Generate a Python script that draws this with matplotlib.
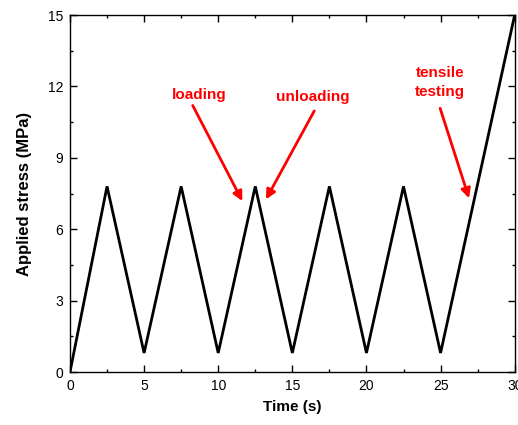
import matplotlib.pyplot as plt
from matplotlib.ticker import MultipleLocator

plt.rcParams['font.family'] = ['Liberation Sans', 'DejaVu Sans']

# cyclic load/unload, then the final tensile ramp
time_s = [0, 2.5, 5, 7.5, 10, 12.5, 15, 17.5, 20, 22.5, 25, 30]
stress_mpa = [0, 7.8, 0.8, 7.8, 0.8, 7.8, 0.8, 7.8, 0.8, 7.8, 0.8, 15]

fig = plt.figure(figsize=(5.18, 4.25), dpi=100)
ax = fig.add_axes([0.1351, 0.1247, 0.8585, 0.84])

ax.plot(time_s, stress_mpa, 'k-', lw=2.0, solid_joinstyle='miter')

ax.set_xlim(0, 30)
ax.set_ylim(0, 15)
ax.xaxis.set_major_locator(MultipleLocator(5))
ax.xaxis.set_minor_locator(MultipleLocator(2.5))
ax.yaxis.set_major_locator(MultipleLocator(3))
ax.yaxis.set_minor_locator(MultipleLocator(1.5))
ax.tick_params(which='both', direction='in', top=True, right=True,
               labelsize=10, width=1)
ax.tick_params(which='major', length=5, pad=5)
ax.tick_params(which='minor', length=2.5)
for sp in ax.spines.values():
    sp.set_linewidth(1)

ax.set_xlabel('Time (s)', fontsize=11, fontweight='bold', labelpad=5)
ax.set_ylabel('Applied stress (MPa)', fontsize=12, fontweight='bold', labelpad=11)

arrow = dict(arrowstyle='-|>', color='red', lw=2, mutation_scale=14,
             shrinkA=0, shrinkB=0)
txt = dict(color='red', fontsize=11, fontweight='bold', ha='center', va='center')

ax.text(8.7, 11.64, 'loading', **txt)
ax.annotate('', xy=(11.63, 7.18), xytext=(8.28, 11.2), arrowprops=arrow)

ax.text(16.35, 11.57, 'unloading', **txt)
ax.annotate('', xy=(13.22, 7.25), xytext=(16.48, 10.97), arrowprops=arrow)

ax.text(24.97, 12.16, 'tensile\ntesting', linespacing=1.5, **txt)
ax.annotate('', xy=(26.92, 7.3), xytext=(24.97, 11.08), arrowprops=arrow)

fig.savefig('out.png', dpi=100)
